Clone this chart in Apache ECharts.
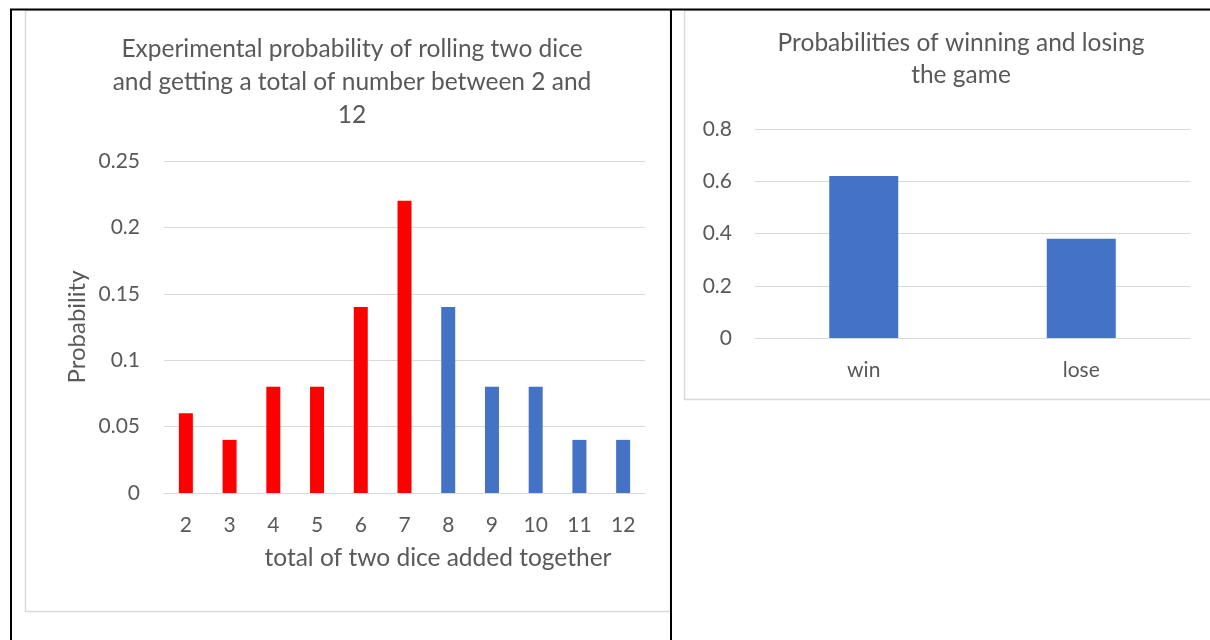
<!DOCTYPE html>
<html>
<head>
<meta charset="utf-8">
<script src="https://cdn.jsdelivr.net/npm/echarts@6/dist/echarts.min.js"></script>
<style>
  html, body { margin: 0; padding: 0; background: #fff; }
  #main { width: 1210px; height: 640px; }
</style>
</head>
<body>
<div id="main"></div>
<script>
// Two-dice experiment: totals and their experimental probabilities
const diceTotals = ['2', '3', '4', '5', '6', '7', '8', '9', '10', '11', '12'];
const totalProbabilities = [0.06, 0.04, 0.08, 0.08, 0.14, 0.22, 0.14, 0.08, 0.08, 0.04, 0.04];
const totalOutcome = ['win', 'win', 'win', 'win', 'win', 'win', 'lose', 'lose', 'lose', 'lose', 'lose'];

// Summary of the game
const gameOutcomes = ['win', 'lose'];
const outcomeProbabilities = [0.62, 0.38];

const leftTitle = 'Experimental probability of rolling two dice\nand getting a total of number between 2 and\n12';
const rightTitle = 'Probabilities of winning and losing\nthe game';
const leftXName = 'total of two dice added together';
const leftYName = 'Probability';

const FONT = 'Lato';
const TEXT = '#595959';
const GRID = '#D9D9D9';
const RED = '#FF0000';
const BLUE = '#4472C4';

const chart = echarts.init(document.getElementById('main'), null, { renderer: 'canvas' });

const axisLabel = { color: TEXT, fontFamily: FONT, fontSize: 21 };

chart.setOption({
  animation: false,
  backgroundColor: '#ffffff',
  title: [
    {
      text: leftTitle, left: 347, top: 28, textAlign: 'center',
      textStyle: { color: TEXT, fontFamily: FONT, fontSize: 24.5, fontWeight: 'normal', lineHeight: 33, align: 'center' }
    },
    {
      text: rightTitle, left: 956, top: 22, textAlign: 'center',
      textStyle: { color: TEXT, fontFamily: FONT, fontSize: 24.5, fontWeight: 'normal', lineHeight: 32, align: 'center' }
    }
  ],
  grid: [
    { left: 164, right: 565, top: 161, bottom: 147, containLabel: false },
    { left: 755, right: 20, top: 129, bottom: 302, containLabel: false }
  ],
  xAxis: [
    {
      type: 'category', gridIndex: 0, data: diceTotals,
      axisLine: { lineStyle: { color: GRID, width: 1 } },
      axisTick: { show: false },
      axisLabel: Object.assign({ margin: 22 }, axisLabel)
    },
    {
      type: 'category', gridIndex: 1, data: gameOutcomes,
      axisLine: { lineStyle: { color: GRID, width: 1 } },
      axisTick: { show: false },
      axisLabel: Object.assign({ margin: 22 }, axisLabel)
    }
  ],
  yAxis: [
    {
      type: 'value', gridIndex: 0, min: 0, max: 0.25, interval: 0.05,
      name: leftYName, nameLocation: 'middle', nameRotate: 90, nameGap: 75,
      nameTextStyle: { color: TEXT, fontFamily: FONT, fontSize: 24 },
      axisLine: { show: false }, axisTick: { show: false },
      splitLine: { lineStyle: { color: GRID, width: 1 } },
      axisLabel: Object.assign({ margin: 24 }, axisLabel)
    },
    {
      type: 'value', gridIndex: 1, min: 0, max: 0.8, interval: 0.2,
      axisLine: { show: false }, axisTick: { show: false },
      splitLine: { lineStyle: { color: GRID, width: 1 } },
      axisLabel: Object.assign({ margin: 23 }, axisLabel)
    }
  ],
  series: [
    {
      type: 'bar', xAxisIndex: 0, yAxisIndex: 0, data: totalProbabilities,
      barWidth: 14,
      itemStyle: { color: p => totalOutcome[p.dataIndex] === 'win' ? RED : BLUE }
    },
    {
      type: 'bar', xAxisIndex: 1, yAxisIndex: 1, data: outcomeProbabilities,
      barWidth: 69,
      itemStyle: { color: BLUE }
    }
  ],
  graphic: [
    // chart frames
    { type: 'rect', z: 0, shape: { x: 25.5, y: 10.5, width: 645, height: 601 },
      style: { fill: 'none', stroke: GRID, lineWidth: 1.5 } },
    { type: 'rect', z: 0, shape: { x: 684.5, y: 10.5, width: 540, height: 389 },
      style: { fill: 'none', stroke: GRID, lineWidth: 1.5 } },
    // table cell borders
    { type: 'line', z: 10, shape: { x1: 10, y1: 9.5, x2: 1210, y2: 9.5 },
      style: { stroke: '#000', lineWidth: 2 } },
    { type: 'line', z: 10, shape: { x1: 11, y1: 9, x2: 11, y2: 640 },
      style: { stroke: '#000', lineWidth: 2 } },
    { type: 'line', z: 10, shape: { x1: 671, y1: 9, x2: 671, y2: 640 },
      style: { stroke: '#000', lineWidth: 2 } },
    // x-axis title
    { type: 'text', z: 5, x: 438, y: 558,
      style: { text: leftXName, fill: TEXT, font: '24.5px ' + FONT, textAlign: 'center', textVerticalAlign: 'middle' } }
  ]
});
</script>
</body>
</html>
